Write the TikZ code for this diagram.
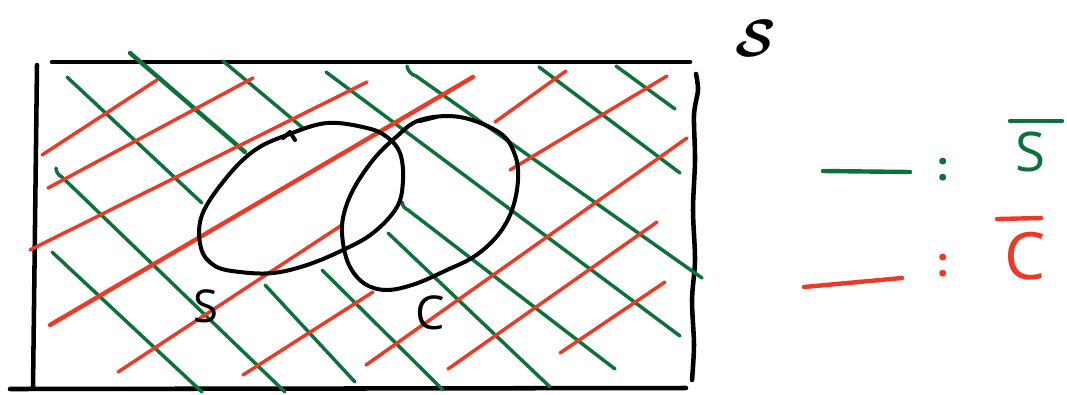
\documentclass[tikz,border=0pt]{standalone}
\usepackage{amsmath}
\usepackage{fontspec}
\setsansfont{Open Sans}
\definecolor{hgreen}{RGB}{14,112,58}
\definecolor{hred}{RGB}{236,58,38}
\begin{document}
\begin{tikzpicture}[x=0.75pt,y=-0.75pt,line cap=round,line join=round,
  frame/.style={line width=3.4pt,black},
  gh/.style={line width=2.6pt,hgreen},
  ghb/.style={line width=3.3pt,hgreen},
  rh/.style={line width=2.6pt,hred},
  rhb/.style={line width=3.3pt,hred},
  ring/.style={line width=3pt,black},
  lbl/.style={inner sep=0pt,font=\sffamily}]
\useasboundingbox (0,0) rectangle (1067,394);

% frame of the universe
\draw[frame] (52,62) -- (690,62);
\draw[frame] (37,65) -- (33,388);
\draw[frame] (10,389) -- (686,388);
\draw[frame] plot[smooth] coordinates {(696,74) (698,90) (694,115) (695,160) (693,210) (695,260) (692,300) (694,345) (692,380)};

% green hatching (complement of S)
\draw[gh]  (67,77)   -- (202,203);
\draw[ghb] (130,53)  -- (245,152);
\draw[gh]  (223,61)  -- (303,128);
\draw[gh]  (326,72)  -- (680,336);
\draw[gh]  (407,66) to[bend right=30] (416,76) -- (702,278);
\draw[gh]  (539,67)  -- (680,173);
\draw[gh]  (616,66)  -- (675,109);
\draw[gh]  (56,168) to[bend right=30] (62,177) -- (285,392);
\draw[gh]  (52,252)  -- (202,392);
\draw[gh]  (265,285) -- (355,382);
\draw[gh]  (322,270) -- (443,390);
\draw[gh]  (402,202) to[bend right=30] (408,210) -- (615,369);
\draw[gh]  (388,233) -- (550,387);

% red hatching (complement of C)
\draw[rh]  (42,155)  -- (157,80);
\draw[rh]  (48,188)  -- (253,78);
\draw[rh]  (30,250)  -- (367,82);
\draw[rhb] (50,325)  -- (473,77);
\draw[rh]  (118,372) -- (342,225);
\draw[rh]  (243,375) -- (373,292);
\draw[rh]  (366,365) -- (687,138);
\draw[rh]  (448,369) -- (657,222);
\draw[rh]  (495,122) -- (566,71);
\draw[rh]  (510,170) -- (667,76);
\draw[rh]  (560,353) -- (665,282);

% the two sets
\draw[ring] plot[smooth cycle,tension=0.6] coordinates {(287,135) (327,123) (367,128) (387,137) (400,153) (403,180) (397,207) (373,233) (343,250) (307,265) (273,273) (240,272) (215,266) (201,248) (202,215) (227,177) (255,150)};
\draw[ring] (283,138) -- (290,132) -- (295,140);
\draw[ring] plot[smooth cycle,tension=0.6] coordinates {(420,120) (460,117) (500,133) (515,155) (518,180) (512,210) (498,235) (475,256) (447,270) (415,284) (387,290) (365,284) (350,267) (343,243) (343,218) (353,190) (373,160) (395,138)};
\draw[ring] (420,121) -- (436,117);

% labels
\node[lbl,font=\sffamily\fontsize{34}{34}\selectfont] (lS) at (206,306) {S};
\node[lbl,font=\sffamily\fontsize{35}{35}\selectfont] (lC) at (430,313) {C};
\node[lbl,font=\huge,scale=1.9] (uni) at (756,38) {$\boldsymbol{\mathcal{S}}$};

% legend
\draw[ghb] (823,171) -- (910,172);
\node[lbl,text=hgreen,font=\sffamily\bfseries\fontsize{30}{30}\selectfont] (cg) at (943,170) {:};
\node[lbl,text=hgreen,font=\sffamily\fontsize{41}{41}\selectfont] (nS) at (1030,152) {S};
\draw[ghb] (1010,121) -- (1062,121);
\draw[rhb] (804,287) -- (902,278);
\node[lbl,text=hred,font=\sffamily\bfseries\fontsize{30}{30}\selectfont] (cr) at (943,266) {:};
\node[lbl,text=hred,font=\sffamily\fontsize{49}{49}\selectfont] (nC) at (1025,256) {C};
\draw[rhb] (997,219) -- (1041,218);
\end{tikzpicture}
\end{document}
